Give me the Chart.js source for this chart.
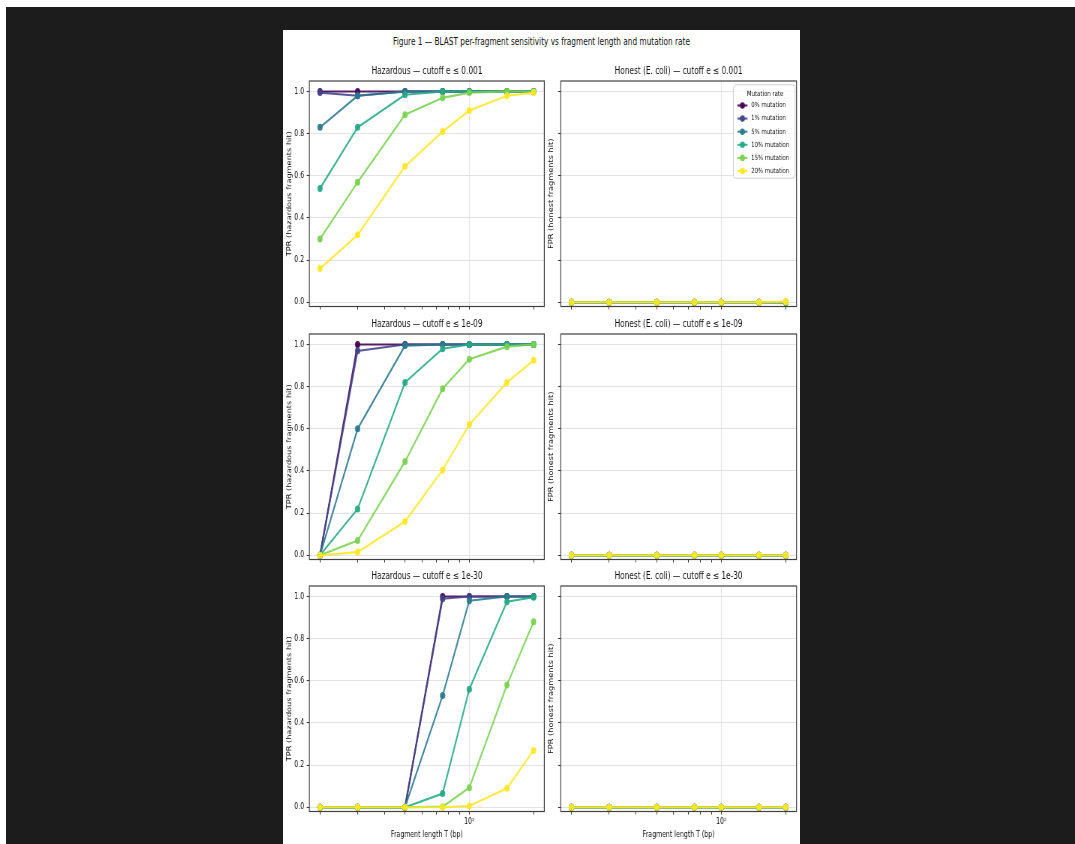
<!DOCTYPE html>
<html>
<head>
<meta charset="utf-8">
<script src="https://cdn.jsdelivr.net/npm/chart.js@4.4.1/dist/chart.umd.min.js"></script>
<style>
  html, body { margin:0; padding:0; background:#ffffff; width:1075px; height:844px; overflow:hidden; }
  #dark { position:absolute; left:6px; top:7px; right:0; bottom:0; background:#1c1c1c; }
  #fig { position:absolute; left:283px; top:30px; width:689.333px; height:814px; background:#ffffff;
         transform:scaleX(0.75); transform-origin:0 0; }
  #fig canvas { position:absolute; }
  #sup { position:absolute; left:0; top:6px; width:100%; text-align:center; line-height:12px;
         font-family:'DejaVu Sans', sans-serif; font-size:9.8px; color:#111111; white-space:nowrap; }
</style>
</head>
<body>
<div id="dark"></div>
<div id="fig">
  <div id="sup">Figure 1 — BLAST per-fragment sensitivity vs fragment length and mutation rate</div>
</div>
<script>
// ---------------- data ----------------
const FRAGMENT_LENGTHS = [20, 30, 50, 75, 100, 150, 200];
const MUTATION_RATES = ['0% mutation', '1% mutation', '5% mutation', '10% mutation', '15% mutation', '20% mutation'];
const CUTOFF_LABELS = ['0.001', '1e-09', '1e-30'];
const X_TICK_VALUES = [20, 30, 40, 50, 60, 70, 80, 90, 100, 200];
const Y_TICK_VALUES = [0, 0.2, 0.4, 0.6, 0.8, 1.0];
const LEGEND_TITLE = 'Mutation rate';

// TPR (hazardous fragments hit), one row per mutation rate
const TPR_E_0_001 = [
  [1.00, 1.00, 1.00, 1.00, 1.00, 1.00, 1.00],
  [0.995, 0.98, 1.00, 1.00, 1.00, 1.00, 1.00],
  [0.83, 0.98, 1.00, 1.00, 1.00, 1.00, 1.00],
  [0.54, 0.83, 0.985, 1.00, 1.00, 1.00, 1.00],
  [0.30, 0.57, 0.89, 0.97, 0.995, 1.00, 1.00],
  [0.16, 0.32, 0.645, 0.81, 0.91, 0.98, 0.995]
];
const TPR_E_1E_09 = [
  [0.00, 1.00, 1.00, 1.00, 1.00, 1.00, 1.00],
  [0.00, 0.97, 1.00, 1.00, 1.00, 1.00, 1.00],
  [0.00, 0.60, 0.995, 1.00, 1.00, 1.00, 1.00],
  [0.00, 0.22, 0.82, 0.98, 1.00, 1.00, 1.00],
  [0.00, 0.07, 0.445, 0.79, 0.93, 0.99, 1.00],
  [0.00, 0.015, 0.16, 0.405, 0.62, 0.82, 0.925]
];
const TPR_E_1E_30 = [
  [0.00, 0.00, 0.00, 1.00, 1.00, 1.00, 1.00],
  [0.00, 0.00, 0.00, 0.99, 1.00, 1.00, 1.00],
  [0.00, 0.00, 0.00, 0.53, 0.98, 1.00, 1.00],
  [0.00, 0.00, 0.00, 0.065, 0.56, 0.975, 0.997],
  [0.00, 0.00, 0.00, 0.003, 0.093, 0.58, 0.88],
  [0.00, 0.00, 0.00, 0.00, 0.006, 0.09, 0.27]
];
// FPR (honest fragments hit), one row per mutation rate
const FPR_E_0_001 = [
  [0, 0, 0, 0, 0, 0, 0], [0, 0, 0, 0, 0, 0, 0], [0, 0, 0, 0, 0, 0, 0],
  [0, 0, 0, 0, 0, 0, 0], [0, 0, 0, 0, 0, 0, 0], [0, 0, 0, 0, 0, 0, 0.003]
];
const FPR_E_1E_09 = [
  [0, 0, 0, 0, 0, 0, 0], [0, 0, 0, 0, 0, 0, 0], [0, 0, 0, 0, 0, 0, 0],
  [0, 0, 0, 0, 0, 0, 0], [0, 0, 0, 0, 0, 0, 0], [0, 0, 0, 0, 0, 0, 0]
];
const FPR_E_1E_30 = [
  [0, 0, 0, 0, 0, 0, 0], [0, 0, 0, 0, 0, 0, 0], [0, 0, 0, 0, 0, 0, 0],
  [0, 0, 0, 0, 0, 0, 0], [0, 0, 0, 0, 0, 0, 0], [0, 0, 0, 0, 0, 0, 0]
];

// ---------------- styles ----------------
const COLORS = ['68,1,84', '65,68,135', '42,120,142', '34,168,132', '122,209,81', '253,231,37'];
const FONT = "'DejaVu Sans', sans-serif";
const TEXT = '#111111';
const GRID = '#e3e3e3';
Chart.defaults.font.family = FONT;
Chart.defaults.color = TEXT;

const framePlugin = {
  id: 'frame',
  afterDatasetsDraw(chart) {
    const a = chart.chartArea, ctx = chart.ctx;
    ctx.save();
    ctx.strokeStyle = '#404040';
    ctx.lineWidth = 1.2;
    ctx.strokeRect(a.left, a.top, a.right - a.left, a.bottom - a.top);
    ctx.restore();
  }
};

const legendPlugin = {
  id: 'mlegend',
  afterDraw(chart) {
    const a = chart.chartArea, ctx = chart.ctx;
    const w = 82.3, h = 93.3;
    const x0 = a.right - 1.8 - w, y0 = a.top + 3.8;
    ctx.save();
    ctx.beginPath();
    ctx.roundRect(x0, y0, w, h, 3);
    ctx.fillStyle = 'rgba(255,255,255,0.85)';
    ctx.fill();
    ctx.strokeStyle = '#cfcfcf';
    ctx.lineWidth = 1;
    ctx.stroke();
    ctx.font = "7.2px " + FONT;
    ctx.fillStyle = TEXT;
    ctx.textBaseline = 'middle';
    ctx.textAlign = 'center';
    ctx.fillText(LEGEND_TITLE, x0 + w / 2 + 1, y0 + 9);
    ctx.textAlign = 'left';
    chart.data.datasets.forEach((ds, i) => {
      const yy = y0 + 20.7 + i * 13.1;
      ctx.strokeStyle = ds.borderColor;
      ctx.lineWidth = 2.1;
      ctx.beginPath();
      ctx.moveTo(x0 + 5.3, yy);
      ctx.lineTo(x0 + 18.7, yy);
      ctx.stroke();
      ctx.fillStyle = ds.pointBackgroundColor;
      ctx.beginPath();
      ctx.arc(x0 + 12, yy, 3.3, 0, Math.PI * 2);
      ctx.fill();
      ctx.fillStyle = TEXT;
      ctx.fillText(ds.label, x0 + 23.6, yy);
    });
    ctx.restore();
  }
};

// ---------------- layout (unscaled figure coordinates) ----------------
const ROW_TOPS = [31.2, 283.7, 536.1];
const CANVAS_H = 280;
const COLS = [
  { left: 0,   width: 384, yW: 35.1, rW: 35.6, titlePad: 4.3 },
  { left: 352, width: 351, yW: 18.3, rW: 18.3, titlePad: 1.3 }
];

function makeChart(row, col, series, titleText, withLegend) {
  const fig = document.getElementById('fig');
  const cv = document.createElement('canvas');
  const c = COLS[col];
  cv.width = c.width; cv.height = CANVAS_H;
  cv.style.left = c.left + 'px';
  cv.style.top = ROW_TOPS[row] + 'px';
  cv.style.width = c.width + 'px';
  cv.style.height = CANVAS_H + 'px';
  fig.appendChild(cv);
  const isLeft = col === 0;
  const isBottom = row === 2;

  const datasets = series.map((vals, i) => ({
    label: MUTATION_RATES[i],
    data: FRAGMENT_LENGTHS.map((x, j) => ({ x: x, y: vals[j] })),
    borderColor: 'rgba(' + COLORS[i] + ',0.88)',
    backgroundColor: 'rgba(' + COLORS[i] + ',0.88)',
    pointBackgroundColor: 'rgba(' + COLORS[i] + ',0.93)',
    pointBorderWidth: 0,
    pointRadius: 3.5,
    borderWidth: 2.1,
    tension: 0,
    order: series.length - 1 - i
  }));

  const plugins = [framePlugin];
  if (withLegend) plugins.push(legendPlugin);

  return new Chart(cv, {
    type: 'line',
    data: { datasets },
    plugins,
    options: {
      responsive: false,
      animation: false,
      events: [],
      layout: { padding: 0 },
      plugins: {
        legend: { display: false },
        tooltip: { enabled: false },
        title: {
          display: true, text: titleText, color: TEXT,
          font: { size: 9.8, family: FONT, weight: 'normal' },
          padding: { top: 4.62, bottom: 3.62 }
        }
      },
      scales: {
        x: {
          type: 'logarithmic', min: 17.83, max: 224.4, position: 'bottom',
          afterBuildTicks: s => { s.ticks = X_TICK_VALUES.map(v => ({ value: v })); },
          afterFit: s => { s.height = 34.5; },
          ticks: {
            autoSkip: false, maxRotation: 0, minRotation: 0, padding: 2.2,
            font: { size: 8.3 }, color: TEXT,
            callback: v => (isBottom && v === 100) ? '10²' : ''
          },
          grid: {
            color: ctx => (ctx.tick && ctx.tick.value === 100) ? GRID : 'rgba(0,0,0,0)',
            lineWidth: 1, tickColor: '#333333', tickLength: 3
          },
          border: { display: false },
          title: {
            display: isBottom, text: 'Fragment length T (bp)', color: TEXT,
            font: { size: 8.3 }, padding: { top: 0, bottom: 6.4 }
          }
        },
        y: {
          type: 'linear', min: -0.02, max: 1.05, position: 'left',
          afterBuildTicks: s => { s.ticks = Y_TICK_VALUES.map(v => ({ value: v })); },
          afterFit: s => { s.width = c.yW; },
          ticks: {
            autoSkip: false, padding: 3.3, font: { size: 8.3 }, color: TEXT,
            callback: v => isLeft ? Number(v).toFixed(1) : ''
          },
          grid: { color: GRID, lineWidth: 1, tickColor: '#333333', tickLength: 3.5 },
          border: { display: false },
          title: {
            display: true,
            text: isLeft ? 'TPR (hazardous fragments hit)' : 'FPR (honest fragments hit)',
            color: TEXT, font: { size: 8.2 }, padding: { top: c.titlePad, bottom: 0 }
          }
        },
        yr: {
          type: 'linear', position: 'right', display: true,
          afterFit: s => { s.width = c.rW; },
          grid: { display: false, drawTicks: false },
          border: { display: false },
          ticks: { display: false }
        }
      }
    }
  });
}

const TPR_ROWS = [TPR_E_0_001, TPR_E_1E_09, TPR_E_1E_30];
const FPR_ROWS = [FPR_E_0_001, FPR_E_1E_09, FPR_E_1E_30];
for (let r = 0; r < 3; r++) {
  makeChart(r, 0, TPR_ROWS[r], 'Hazardous — cutoff e ≤ ' + CUTOFF_LABELS[r], false);
  makeChart(r, 1, FPR_ROWS[r], 'Honest (E. coli) — cutoff e ≤ ' + CUTOFF_LABELS[r], r === 0);
}
</script>
</body>
</html>
